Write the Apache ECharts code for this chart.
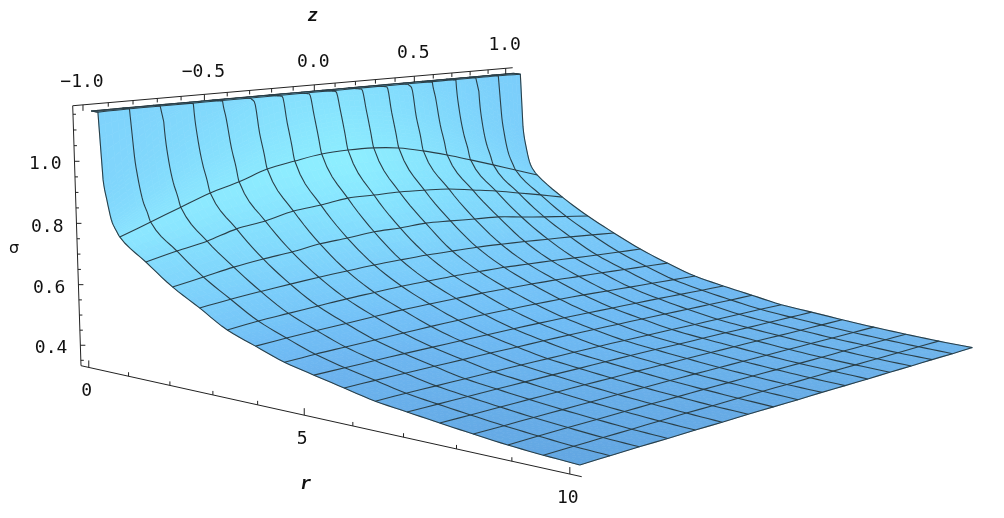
<!DOCTYPE html>
<html><head><meta charset="utf-8">
<style>html,body{margin:0;padding:0;background:#fff}#c{width:1004px;height:518px}</style>
<script src="https://cdn.jsdelivr.net/npm/echarts@6/dist/echarts.min.js"></script>
</head><body><div id="c"></div>
<script>
const rValues=[0,0.17,0.25,0.33,0.45,0.55,0.625,1.25,1.875,2.5,3.125,3.75,4.375,5,5.625,6.25,6.875,7.5,8.125,8.75,9.375,10];
const zValues=[-1,-0.875,-0.75,-0.625,-0.5,-0.375,-0.25,-0.125,0,0.125,0.25,0.375,0.5,0.625,0.75,0.875,1];
const sigmaRows=[
[1.16,1.16,1.16,1.16,1.16,1.16,1.16,1.16,1.16,1.16,1.16,1.16,1.16,1.16,1.16,1.16,1.16],
[1.158,1.16,1.16,1.16,1.16,1.16,1.16,1.16,1.16,1.16,1.16,1.16,1.16,1.16,1.16,1.16,1.158],
[.944,1.03,1.11,1.16,1.16,1.16,1.16,1.16,1.16,1.16,1.16,1.16,1.16,1.16,1.11,1.03,.96],
[.881,.945,1.003,1.057,1.105,1.15,1.16,1.16,1.16,1.16,1.16,1.15,1.105,1.057,1.003,.945,.885],
[.81,.866,.916,.964,1.006,1.045,1.07,1.084,1.09,1.084,1.07,1.045,1.006,.964,.916,.866,.815],
[.785,.831,.873,.913,.947,.98,1.0,1.012,1.017,1.012,1.0,.98,.947,.913,.873,.831,.79],
[.768,.802,.837,.871,.896,.927,.943,.956,.959,.956,.945,.924,.898,.869,.839,.808,.777],
[.701,.721,.738,.764,.776,.796,.803,.814,.812,.810,.804,.796,.780,.764,.744,.724,.703],
[.636,.651,.667,.678,.686,.698,.703,.710,.709,.712,.706,.699,.693,.679,.666,.654,.642],
[.585,.595,.603,.610,.616,.621,.625,.627,.628,.627,.625,.621,.616,.610,.604,.597,.590],
[.532,.542,.548,.554,.560,.564,.568,.569,.570,.569,.568,.564,.560,.555,.550,.546,.542],
[.499,.505,.510,.514,.518,.522,.524,.525,.526,.525,.524,.522,.518,.515,.511,.507,.503],
[.467,.472,.475,.478,.481,.484,.486,.487,.487,.487,.486,.484,.481,.478,.475,.472,.469],
[.446,.448,.450,.452,.453,.454,.455,.456,.456,.456,.455,.454,.453,.452,.450,.448,.447],
[.426,.428,.429,.430,.431,.432,.432,.433,.433,.433,.432,.432,.431,.430,.429,.428,.428],
[.406,.408,.409,.410,.411,.412,.412,.413,.413,.413,.412,.412,.411,.411,.410,.410,.409],
[.394,.395,.396,.397,.398,.399,.399,.400,.400,.400,.399,.399,.399,.398,.398,.398,.398],
[.382,.383,.384,.385,.386,.387,.387,.388,.388,.388,.388,.388,.388,.387,.387,.387,.387],
[.371,.372,.373,.374,.375,.376,.376,.377,.377,.377,.377,.377,.377,.377,.377,.377,.377],
[.361,.363,.364,.365,.366,.367,.367,.368,.368,.368,.368,.368,.368,.369,.369,.369,.369],
[.354,.355,.356,.357,.358,.359,.359,.360,.360,.360,.360,.361,.361,.361,.361,.362,.362],
[.349,.350,.351,.351,.352,.352,.353,.353,.353,.354,.354,.354,.355,.355,.356,.356,.357]
];
const meshR=[0,0.17,0.625,1.25,1.875,2.5,3.125,3.75,4.375,5,5.625,6.25,6.875,7.5,8.125,8.75,9.375,10];
const rTicks=[0,1,2,3,4,5,6,7,8,9,10];
const rLabels=[0,5,10];
const zTicks=[-1,-0.9,-0.8,-0.7,-0.6,-0.5,-0.4,-0.3,-0.2,-0.1,0,0.1,0.2,0.3,0.4,0.5,0.6,0.7,0.8,0.9,1];
const zLabels=[-1,-0.5,0,0.5,1];
const zLabelText=['−1.0','−0.5','0.0','0.5','1.0'];
const sTicks=[0.35,0.4,0.45,0.5,0.55,0.6,0.65,0.7,0.75,0.8,0.85,0.9,0.95,1,1.05,1.1,1.15];
const sLabels=[0.4,0.6,0.8,1];
const sLabelText=['0.4','0.6','0.8','1.0'];
const colourR=[0,0.3,0.7,1.25,2.5,3.75,5,7.5,10];
const colourLeft=['#7dcffb','#80d6fc','#8be6ff','#84dcfd','#7acdfa','#70bdf5','#6cb3ee','#66ace7','#62a6e2'];
const colourMid=['#7fd2fb','#84dffd','#8eefff','#88e7ff','#7dd0fb','#76c5f9','#6fbcf5','#6ab2ec','#67ace6'];
const colourRight=['#7accfb','#7bcffb','#7fd5fc','#7dd2fb','#78c7f8','#72bef5','#6fb8f1','#6fb6ee','#6fb5ec'];

const R0=-0.2,R1=10.2,Z0=-1.04,Z1=1.04,S0=0.332,S1=1.177;
function project(r,z,s){
  const a=(r-R0)/(R1-R0),b=(z-Z0)/(Z1-Z0),c=(s-S0)/(S1-S0);
  const w=1-0.1955*a+0.2125*b-0.025*c;
  return [(81+387*a+537.9*b-10.1*c)/w,(365.7+17.8*a-22.7*b-262.6*c)/w];
}
// shape-preserving tangents so a mesh line curves smoothly through the table's rows
const tangents=zValues.map((z,j)=>{
  const n=rValues.length,h=[],d=[],t=new Array(n).fill(0);
  for(let i=0;i<n-1;i++){h.push(rValues[i+1]-rValues[i]);d.push((sigmaRows[i+1][j]-sigmaRows[i][j])/h[i]);}
  for(let i=1;i<n-1;i++){
    if(d[i-1]*d[i]>0){const w1=2*h[i]+h[i-1],w2=h[i]+2*h[i-1];t[i]=(w1+w2)/(w1/d[i-1]+w2/d[i]);}
  }
  t[0]=0;t[n-1]=d[n-2];
  t[1]=0;
  t[2]=d[2]*1.6;
  return t;
});
function sigmaOnColumn(i,u,j){
  const h=rValues[i+1]-rValues[i],y0=sigmaRows[i][j],y1=sigmaRows[i+1][j],t=tangents[j];
  if(i<2)return y0+(y1-y0)*u;
  const u2=u*u,u3=u2*u;
  return (2*u3-3*u2+1)*y0+(u3-2*u2+u)*h*t[i]+(-2*u3+3*u2)*y1+(u3-u2)*h*t[i+1];
}
function hex(h){return [1,3,5].map(k=>parseInt(h.substr(k,2),16));}
function lerp(A,B,t){return A.map((v,k)=>v+(B[k]-v)*t);}
function stopColour(list,r){
  let k=0;while(k<colourR.length-2&&r>colourR[k+1])k++;
  const t=Math.max(0,Math.min(1,(r-colourR[k])/(colourR[k+1]-colourR[k])));
  return lerp(hex(list[k]),hex(list[k+1]),t);
}
function shade(r,z){
  const c=z<0?lerp(stopColour(colourLeft,r),stopColour(colourMid,r),z+1):lerp(stopColour(colourMid,r),stopColour(colourRight,r),z);
  return 'rgb('+c.map(Math.round).join(',')+')';
}
const SUB=5;
const cells=[];
for(let i=0;i<rValues.length-1;i++)for(let j=0;j<zValues.length-1;j++)cells.push([i,j]);
function renderCell(params,api){
  const i=api.value(0),j=api.value(1),kids=[];
  const at=(u,v)=>{
    const s=(1-v)*sigmaOnColumn(i,u,j)+v*sigmaOnColumn(i,u,j+1);
    const r=rValues[i]+u*(rValues[i+1]-rValues[i]),z=zValues[j]+v*(zValues[j+1]-zValues[j]);
    return api.coord(project(r,z,s));
  };
  for(let p=0;p<SUB;p++)for(let q=0;q<SUB;q++){
    const u0=p/SUB,u1=(p+1)/SUB,v0=q/SUB,v1=(q+1)/SUB;
    const rc=rValues[i]+(u0+u1)/2*(rValues[i+1]-rValues[i]),zc=zValues[j]+(v0+v1)/2*(zValues[j+1]-zValues[j]);
    const col=i===0?'#46565f':shade(rc,zc);
    kids.push({type:'polygon',shape:{points:[at(u0,v0),at(u0,v1),at(u1,v1),at(u1,v0)]},style:{fill:col,stroke:col,lineWidth:0.7},silent:true});
  }
  return {type:'group',children:kids};
}
// kind 0 = mesh line along z at one r row, kind 1 = mesh line along r at one z column
const meshLines=[];
rValues.forEach((r,i)=>{if(meshR.includes(r))meshLines.push([0,i]);});
zValues.forEach((z,j)=>meshLines.push([1,j]));
function renderMesh(params,api){
  const kind=api.value(0),idx=api.value(1);
  let pts;
  if(kind===0){
    pts=zValues.map((z,j)=>api.coord(project(rValues[idx],z,sigmaRows[idx][j])));
  }else{
    pts=[];
    for(let i=0;i<rValues.length-1;i++)for(let p=0;p<SUB;p++){
      const u=p/SUB;
      pts.push(api.coord(project(rValues[i]+u*(rValues[i+1]-rValues[i]),zValues[idx],sigmaOnColumn(i,u,idx))));
    }
    pts.push(api.coord(project(rValues[rValues.length-1],zValues[idx],sigmaRows[rValues.length-1][idx])));
  }
  return {type:'polyline',shape:{points:pts,smooth:kind===0?0.35:0},style:{fill:'none',stroke:'#2a3f48',lineWidth:1.1},silent:true};
}
const AXC='#222';
// kind 0 = box edge, 1 = r tick, 2 = z tick, 3 = sigma tick
const axisItems=[[0,0],[0,1],[0,2]];
rTicks.forEach(t=>axisItems.push([1,t]));
zTicks.forEach(t=>axisItems.push([2,t]));
sTicks.forEach(t=>axisItems.push([3,t]));
function renderAxis(params,api){
  const kind=api.value(0),v=api.value(1);
  const line=(A,B)=>({type:'line',shape:{x1:A[0],y1:A[1],x2:B[0],y2:B[1]},style:{stroke:AXC,lineWidth:1},silent:true});
  if(kind===0){
    if(v===0)return line(api.coord(project(R0,Z0,S0)),api.coord(project(R1,Z0,S0)));
    if(v===1)return line(api.coord(project(R0,Z0,S1)),api.coord(project(R0,Z1,S1)));
    return line(api.coord(project(R0,Z0,S0)),api.coord(project(R0,Z0,S1)));
  }
  if(kind===1){const P=api.coord(project(v,Z0,S0));const l=v%5===0?7:4;return line(P,[P[0],P[1]-l]);}
  if(kind===2){const P=api.coord(project(R0,v,S1));const l=Math.abs(v*2-Math.round(v*2))<1e-6?6:4;return line(P,[P[0],P[1]+l]);}
  const P=api.coord(project(R0,Z0,v));const l=Math.abs(v*5-Math.round(v*5))<1e-6?5:3;return line(P,[P[0]+l,P[1]]);
}
// kind 0 = r label, 1 = z label, 2 = sigma label; second field indexes the label list
const textItems=[];
rLabels.forEach((t,k)=>textItems.push([0,k]));
zLabels.forEach((t,k)=>textItems.push([1,k]));
sLabels.forEach((t,k)=>textItems.push([2,k]));
const MONO='"DejaVu Sans Mono"';
function renderText(params,api){
  const kind=api.value(0),k=api.value(1);
  let P,dx=0,dy=0,al='center',txt;
  if(kind===0){P=api.coord(project(rLabels[k],Z0,S0));dx=-2;dy=24;txt=String(rLabels[k]);}
  else if(kind===1){P=api.coord(project(R0,zLabels[k],S1));dx=-1;dy=-22.5;txt=zLabelText[k];}
  else{P=api.coord(project(R0,Z0,sLabels[k]));dx=-13;dy=3.5;al='right';txt=sLabelText[k];}
  return {type:'text',style:{text:txt,x:P[0]+dx,y:P[1]+dy,align:al,verticalAlign:'middle',fontFamily:MONO,fontSize:18,fill:'#111'},silent:true};
}
const chart=echarts.init(document.getElementById('c'),null,{renderer:'canvas'});
const common={type:'custom',coordinateSystem:'cartesian2d',clip:false,silent:true,progressive:0,encode:{x:[],y:[]}};
chart.setOption({
  animation:false,backgroundColor:'#fff',
  grid:{left:0,right:0,top:0,bottom:0},
  xAxis:{type:'value',min:0,max:1004,show:false},
  yAxis:{type:'value',min:0,max:518,inverse:true,show:false},
  graphic:[
    {type:'text',silent:true,style:{text:'z',x:313,y:16,align:'center',verticalAlign:'middle',fontFamily:'"Liberation Mono"',fontStyle:'italic',fontWeight:'bold',fontSize:18,fill:'#111'}},
    {type:'text',silent:true,style:{text:'r',x:306,y:484,align:'center',verticalAlign:'middle',fontFamily:'"Liberation Mono"',fontStyle:'italic',fontWeight:'bold',fontSize:18,fill:'#111'}},
    {type:'text',silent:true,style:{text:'σ',x:14,y:249,align:'center',verticalAlign:'middle',fontFamily:'"DejaVu Sans"',fontSize:16,fill:'#111'}}
  ],
  series:[
    Object.assign({name:'surface',data:cells,renderItem:renderCell},common),
    Object.assign({name:'mesh',data:meshLines,renderItem:renderMesh},common),
    Object.assign({name:'axes',data:axisItems,renderItem:renderAxis},common),
    Object.assign({name:'labels',data:textItems,renderItem:renderText},common)
  ]
});
</script></body></html>
